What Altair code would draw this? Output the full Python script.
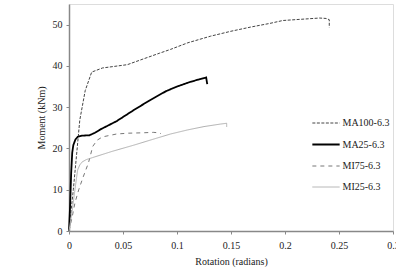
import altair as alt
import pandas as pd

series_names = ["MA100-6.3", "MA25-6.3", "MI75-6.3", "MI25-6.3"]

ma100_rot = [0.0, 0.004, 0.010, 0.015, 0.021, 0.031, 0.054, 0.070, 0.084, 0.094, 0.110, 0.131, 0.150, 0.168, 0.186, 0.198, 0.215, 0.232, 0.238, 0.241, 0.241]
ma100_mom = [0.0, 10.0, 26.9, 34.0, 38.5, 39.5, 40.3, 41.8, 43.1, 44.0, 45.6, 47.2, 48.4, 49.4, 50.3, 51.0, 51.3, 51.6, 51.5, 51.2, 49.3]

ma25_rot = [0.0, 0.001, 0.002, 0.003, 0.004, 0.006, 0.008, 0.012, 0.019, 0.024, 0.029, 0.044, 0.060, 0.075, 0.090, 0.100, 0.112, 0.120, 0.127, 0.128]
ma25_mom = [0.0, 6.0, 14.0, 19.0, 20.8, 22.2, 22.8, 23.1, 23.2, 23.8, 24.6, 26.6, 29.3, 31.7, 33.9, 35.0, 36.1, 36.7, 37.2, 35.6]

mi75_rot = [0.0, 0.003, 0.0055, 0.009, 0.013, 0.018, 0.022, 0.026, 0.031, 0.044, 0.055, 0.069, 0.078, 0.083, 0.085]
mi75_mom = [0.0, 3.5, 6.8, 10.0, 13.0, 16.5, 20.5, 22.0, 22.8, 23.5, 23.7, 23.8, 23.9, 23.8, 23.6]

mi25_rot = [0.0, 0.003, 0.006, 0.008, 0.010, 0.012, 0.016, 0.022, 0.040, 0.060, 0.075, 0.094, 0.110, 0.125, 0.140, 0.146, 0.146]
mi25_mom = [0.0, 5.0, 11.0, 14.8, 16.0, 16.7, 17.3, 17.8, 19.3, 20.8, 22.0, 23.5, 24.5, 25.3, 25.9, 26.1, 25.2]

x_ticks = [0, 0.05, 0.1, 0.15, 0.2, 0.25, 0.3]
y_ticks = [0, 10, 20, 30, 40, 50]

rows = []
for name, rs, ms in zip(series_names,
                        [ma100_rot, ma25_rot, mi75_rot, mi25_rot],
                        [ma100_mom, ma25_mom, mi75_mom, mi25_mom]):
    for i, (r, m) in enumerate(zip(rs, ms)):
        rows.append({"series": name, "rot": r, "mom": m, "order": i})
df = pd.DataFrame(rows)

font = "Liberation Serif"


def leg():
    return alt.Legend(title=None, orient="none", legendX=245.5, legendY=108,
                      symbolType="M-1.3,0H1.3", symbolSize=441, symbolStrokeWidth=1.2,
                      labelFont=font, labelFontSize=10, labelColor="#222",
                      rowPadding=5, labelOffset=5)


chart = alt.Chart(df).mark_line(interpolate="linear").encode(
    x=alt.X("rot:Q", title="Rotation (radians)",
            scale=alt.Scale(domain=[0, 0.3], nice=False, zero=False),
            axis=alt.Axis(values=x_ticks, format="~g", grid=False,
                          labelFlush=False, labelOverlap=False, labelBound=False,
                          domainColor="#888", domainWidth=1.5,
                          tickColor="#888", tickSize=3,
                          labelFont=font, labelFontSize=10, labelColor="#222",
                          labelPadding=6, titleFont=font, titleFontSize=10,
                          titleFontWeight="normal", titleColor="#222", titlePadding=6)),
    y=alt.Y("mom:Q", title="Moment (kNm)",
            scale=alt.Scale(domain=[0, 55], nice=False),
            axis=alt.Axis(values=y_ticks, grid=False,
                          domainColor="#888", domainWidth=1.5,
                          tickColor="#888", tickSize=3,
                          labelFont=font, labelFontSize=10, labelColor="#222",
                          labelPadding=4, titleFont=font, titleFontSize=10,
                          titleFontWeight="normal", titleColor="#222", titlePadding=6)),
    color=alt.Color("series:N",
                    scale=alt.Scale(domain=series_names, range=["#444444", "#000000", "#777777", "#b0b0b0"]),
                    legend=leg()),
    strokeDash=alt.StrokeDash("series:N",
                              scale=alt.Scale(domain=series_names,
                                              range=[[3, 1.5], [1, 0], [4, 4], [1, 0]]),
                              legend=leg()),
    strokeWidth=alt.StrokeWidth("series:N",
                                scale=alt.Scale(type="ordinal", domain=series_names, range=[1.0, 1.8, 1.0, 1.0]),
                                legend=leg()),
    order="order:Q",
).properties(
    width=324, height=227,
    autosize=alt.AutoSizeParams(type="none"),
    padding={"left": 69, "top": 4, "right": 3, "bottom": 38},
).configure_view(stroke=None).configure(background="white")

chart.save("out.html", embed_options={"renderer": "svg", "actions": False})
